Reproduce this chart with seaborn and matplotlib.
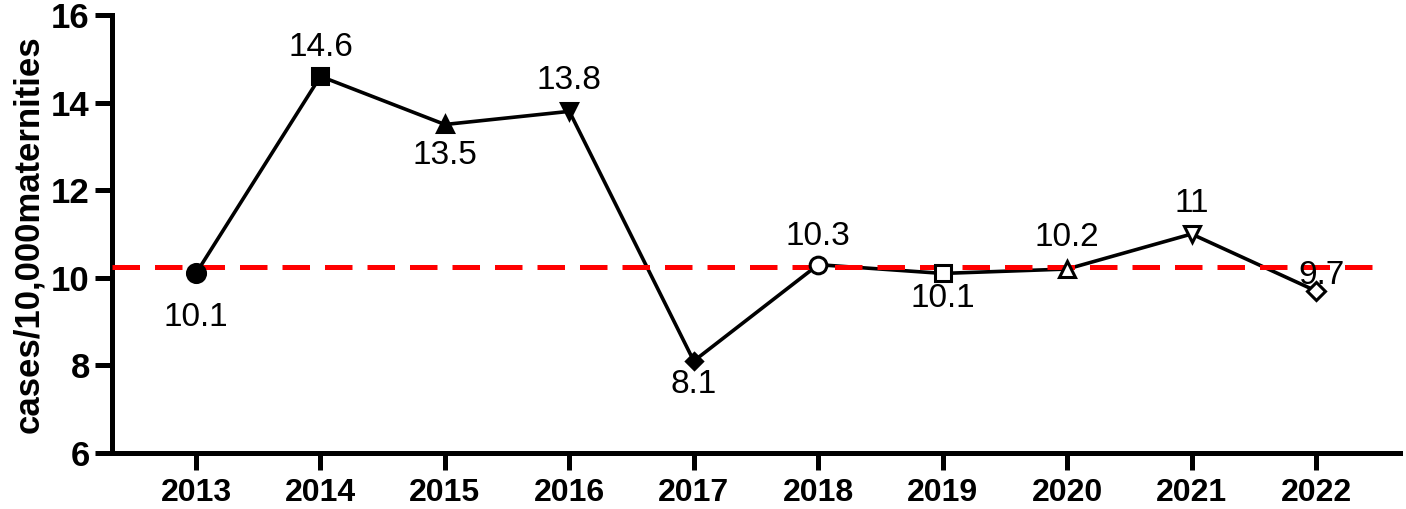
import matplotlib
matplotlib.use("Agg")
import matplotlib.pyplot as plt
import seaborn as sns
import numpy as np
import pandas as pd

years = ["2013", "2014", "2015", "2016", "2017", "2018", "2019", "2020", "2021", "2022"]
values = [10.1, 14.6, 13.5, 13.8, 8.1, 10.3, 10.1, 10.2, 11.0, 9.7]
labels = ["10.1", "14.6", "13.5", "13.8", "8.1", "10.3", "10.1", "10.2", "11", "9.7"]
reference_level = 10.25
y_ticks = [6, 8, 10, 12, 14, 16]

markers = ["o", "s", "^", "v", "D", "o", "s", "^", "v", "D"]
filled = [True, True, True, True, True, False, False, False, False, False]
msizes = [13, 11, 11, 11, 8, 12, 11, 12, 12, 9]
# label offsets in points (dx, dy)
offsets = [(0, -32), (0, 21), (0, -22), (0, 22), (0, -17), (0, 20), (0, -18), (0, 23), (0, 22), (4, 11)]

sns.set_style("ticks")
plt.rcParams["font.family"] = ["Liberation Sans", "DejaVu Sans"]
plt.rcParams["text.color"] = "black"
plt.rcParams["axes.labelcolor"] = "black"
plt.rcParams["xtick.color"] = "black"
plt.rcParams["ytick.color"] = "black"

fig = plt.figure(figsize=(14.06, 5.09), dpi=100)
ax = fig.add_axes([112 / 1406, 56 / 509, (1400 - 112) / 1406, (453 - 15) / 509])

df = pd.DataFrame({"x": np.arange(len(years)), "y": values})
sns.lineplot(data=df, x="x", y="y", ax=ax, color="black", linewidth=2.6, zorder=3)

ax.axhline(reference_level, color="#ff0000", linewidth=3.6, linestyle=(0, (5.5, 3)), zorder=4,
           xmin=0, xmax=(1380 - 112) / (1400 - 112))

for i, (v, m, f, ms) in enumerate(zip(values, markers, filled, msizes)):
    ax.plot([i], [v], marker=m, markersize=ms, color="black",
            markerfacecolor="black" if f else "white", markeredgewidth=2.2,
            linestyle="none", zorder=5)
    dx, dy = offsets[i]
    ax.annotate(labels[i], (i, v), xytext=(dx, dy), textcoords="offset points",
                ha="center", va="center", fontsize=24, color="black", zorder=6)

ax.set_xlim(-0.675, 9.675)
ax.set_ylim(6, 16)
ax.set_xticks(np.arange(len(years)))
ax.set_xticklabels(years, fontsize=23, fontweight="bold")
ax.set_yticks(y_ticks)
ax.set_yticklabels([str(t) for t in y_ticks], fontsize=25, fontweight="bold")
ax.set_xlabel("")
ax.set_ylabel("cases/10,000maternities", fontsize=25, fontweight="bold", labelpad=4)

for s in ["top", "right"]:
    ax.spines[s].set_visible(False)
for s in ["left", "bottom"]:
    ax.spines[s].set_linewidth(3.6)
    ax.spines[s].set_color("black")
ax.tick_params(axis="both", width=3.6, length=12, color="black", labelcolor="black")
ax.tick_params(axis="y", pad=4)
ax.tick_params(axis="x", pad=6)

fig.savefig("out.png", dpi=100)
